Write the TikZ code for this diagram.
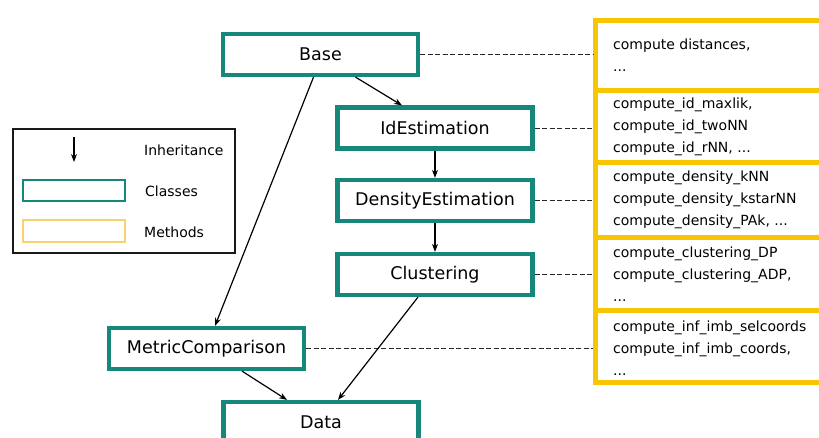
\documentclass[tikz,border=0pt]{standalone}
\usepackage{fontspec}
\setmainfont{DejaVu Sans}
\usetikzlibrary{arrows.meta}
\definecolor{classteal}{HTML}{17877C}
\definecolor{methgold}{HTML}{F7C600}
\definecolor{methlight}{HTML}{F5D56A}
\tikzset{
  classbox/.style={draw=classteal, line width=4.2pt, fill=white, rectangle,
    minimum width=195pt, minimum height=41pt, inner sep=0pt,
    font=\fontsize{17.5}{20}\selectfont},
  methbox/.style={draw=methgold, line width=5pt, rectangle, inner sep=0pt,
    minimum width=250pt},
  methtext/.style={anchor=west, inner sep=0pt, align=left,
    font=\fontsize{14}{22}\selectfont},
  inherit/.style={-{Stealth[length=8pt,width=6pt]}, line width=1.2pt, black},
  methlink/.style={dash pattern=on 5pt off 2.5pt, line width=1pt, black!85},
  legtext/.style={anchor=west, inner sep=0pt, font=\fontsize{14}{16}\selectfont},
}
\begin{document}
\begin{tikzpicture}[x=1pt, y=-1pt]
\useasboundingbox (0,0) rectangle (819,437);

% method groups (yellow column on the right)
\node[methbox, minimum height=69.5pt] (m1) at (720.5,55.25) {};
\node[methbox, minimum height=72pt]   (m2) at (720.5,126) {};
\node[methbox, minimum height=75pt]   (m3) at (720.5,199.5) {};
\node[methbox, minimum height=73pt]   (m4) at (720.5,273.5) {};
\node[methbox, minimum height=72.5pt] (m5) at (720.5,346.25) {};

\node[methtext] (t1) at (613,55) {compute distances,\\...};
\node[methtext] (t2) at (613,127) {compute\_id\_maxlik,\\compute\_id\_twoNN\\compute\_id\_rNN, ...};
\node[methtext] (t3) at (613,200) {compute\_density\_kNN\\compute\_density\_kstarNN\\compute\_density\_PAk, ...};
\node[methtext] (t4) at (613,274) {compute\_clustering\_DP\\compute\_clustering\_ADP,\\...};
\node[methtext] (t5) at (613,348) {compute\_inf\_imb\_selcoords\\compute\_inf\_imb\_coords,\\...};

% classes
\node[classbox] (base)    at (320.5,54.5)  {Base};
\node[classbox] (idest)   at (435,128)     {IdEstimation};
\node[classbox] (densest) at (435,200.5)   {DensityEstimation};
\node[classbox] (clust)   at (435,274.5)   {Clustering};
\node[classbox] (metric)  at (206.5,348.5) {MetricComparison};
\node[classbox] (data)    at (321,422.5)   {Data};

% links from classes to their methods
\draw[methlink] (base.east)    -- (base -| m1.west);
\draw[methlink] (idest.east)   -- (idest -| m2.west);
\draw[methlink] (densest.east) -- (densest -| m3.west);
\draw[methlink] (clust.east)   -- (clust -| m4.west);
\draw[methlink] (metric.east)  -- (metric -| m5.west);

% inheritance
\draw[inherit] ([xshift=35pt]base.south) -- ([xshift=-33pt]idest.north);
\draw[inherit] ([xshift=-7pt]base.south) -- ([xshift=8.5pt]metric.north);
\draw[inherit] (idest.south) -- (densest.north);
\draw[inherit] (densest.south) -- (clust.north);
\draw[inherit] ([xshift=35.5pt]metric.south) -- ([xshift=-34pt]data.north);
\draw[inherit] ([xshift=-17pt]clust.south) -- ([xshift=17pt]data.north);

% legend
\node[draw=black!90, line width=2pt, rectangle, minimum width=222pt, minimum height=124pt, inner sep=0pt] (legend) at (124,191) {};
\coordinate (la1) at (74,137);
\coordinate (la2) at (74,162);
\draw[inherit] (la1) -- (la2);
\node[draw=classteal, line width=2.5pt, rectangle, minimum width=102pt, minimum height=21pt, inner sep=0pt] (lclass) at (74,190.5) {};
\node[draw=methlight, line width=2.5pt, rectangle, minimum width=102pt, minimum height=22pt, inner sep=0pt] (lmeth) at (74,231) {};
\node[legtext] (linh) at (144,150) {Inheritance};
\node[legtext] (lcls) at (145,191) {Classes};
\node[legtext] (lmet) at (144,232) {Methods};
\end{tikzpicture}
\end{document}
